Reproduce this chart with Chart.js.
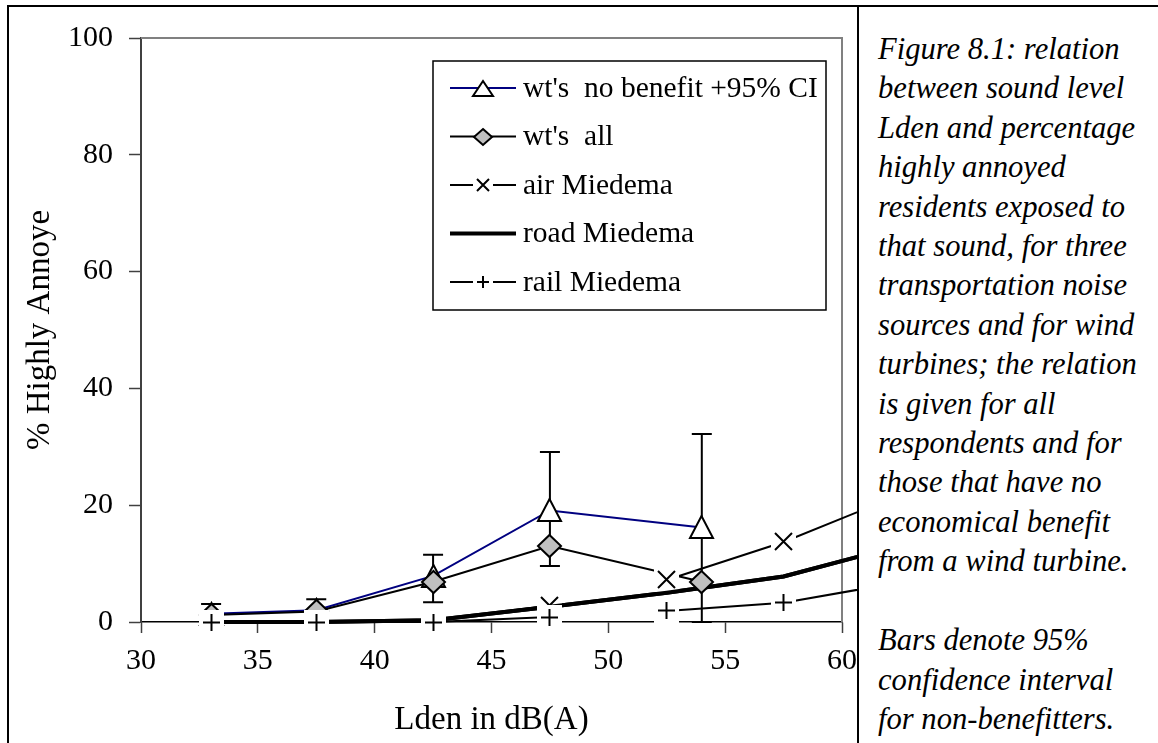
<!DOCTYPE html>
<html><head><meta charset="utf-8">
<script src="https://cdn.jsdelivr.net/npm/chart.js@4/dist/chart.umd.min.js"></script>
<style>
html,body{margin:0;padding:0;background:#fff;width:1158px;height:743px;overflow:hidden;}
#frameTop{position:absolute;left:7px;top:5px;width:1151px;height:0;border-top:2px solid #000;}
#frameLeft{position:absolute;left:7px;top:5px;width:0;height:738px;border-left:2px solid #000;}
#frameSep{position:absolute;left:857px;top:5px;width:0;height:738px;border-left:2px solid #000;}
#chartBox{position:absolute;left:9px;top:7px;width:848px;height:736px;}
#caption{position:absolute;left:878px;top:30px;font:italic 30.6px 'Liberation Serif';line-height:39.4px;color:#000;white-space:nowrap;}
</style></head>
<body>
<div id="frameTop"></div><div id="frameLeft"></div><div id="frameSep"></div>
<div id="chartBox"><canvas id="c" width="848" height="736" style="width:848px;height:736px"></canvas></div>
<div id="caption">Figure 8.1: relation<br>between sound level<br>Lden and percentage<br>highly annoyed<br>residents exposed to<br>that sound, for three<br>transportation noise<br>sources and for wind<br>turbines; the relation<br>is given for all<br>respondents and for<br>those that have no<br>economical benefit<br>from a wind turbine.<br><br>Bars denote 95%<br>confidence interval<br>for non-benefitters.</div>
<script>
// ---- data ----
const wtLden = [33, 37.5, 42.5, 47.5, 54];
const wtNoBenefit = [1.4, 2.0, 7.9, 19.1, 16.2];
const wtNoBenefitLow = [0, 0, 3.4, 9.6, 0];
const wtNoBenefitHigh = [3.1, 3.9, 11.5, 29.1, 32.2];
const wtAll = [1.2, 1.8, 6.9, 13.0, 6.9];
const miedemaLden = [33, 37.5, 42.5, 47.5, 52.5, 57.5, 62.5];
const airMiedema = [0, 0, 0.2, 2.8, 7.2, 13.7, 21.8];
const roadMiedema = [0, 0, 0.3, 2.6, 5.0, 7.8, 13.1];
const railMiedema = [0, 0, 0, 0.85, 1.9, 3.3, 6.8];
const miedemaGapIndex = 3; // no line drawn from this point to the next (air, rail)
const xTicks = [30, 35, 40, 45, 50, 55, 60];
const yTicks = [0, 20, 40, 60, 80, 100];
const labels = ["wt's  no benefit +95% CI", "wt's  all", "air Miedema", "road Miedema", "rail Miedema"];

const FONT = 'Liberation Serif';
const pts = (xs, ys) => xs.map((x, i) => ({x: x, y: ys[i]}));

function makeMarker(kind, w, h) {
  const pad = 2;
  const c = document.createElement('canvas');
  c.width = Math.round(w + pad * 2); c.height = Math.round(h + pad * 2);
  const g = c.getContext('2d');
  const mx = c.width / 2, my = c.height / 2, hw = w / 2, hh = h / 2;
  g.lineWidth = 2; g.strokeStyle = '#000'; g.lineJoin = 'miter';
  if (kind === 'triangle') {
    g.beginPath(); g.moveTo(mx, my - hh); g.lineTo(mx + hw, my + hh); g.lineTo(mx - hw, my + hh); g.closePath();
    g.fillStyle = '#fff'; g.fill(); g.stroke();
  } else if (kind === 'diamond') {
    g.beginPath(); g.moveTo(mx, my - hh); g.lineTo(mx + hw, my); g.lineTo(mx, my + hh); g.lineTo(mx - hw, my); g.closePath();
    g.fillStyle = '#c0c0c0'; g.fill(); g.stroke();
  } else if (kind === 'cross') {
    g.fillStyle = '#fff'; g.fillRect(0, 0, c.width, c.height);
    g.beginPath(); g.moveTo(mx - hw + 2, my - hh + 2); g.lineTo(mx + hw - 2, my + hh - 2);
    g.moveTo(mx + hw - 2, my - hh + 2); g.lineTo(mx - hw + 2, my + hh - 2); g.stroke();
  } else if (kind === 'plus') {
    g.fillStyle = '#fff'; g.fillRect(0, 0, c.width, c.height);
    g.beginPath(); g.moveTo(mx - hw + 2, my); g.lineTo(mx + hw - 2, my);
    g.moveTo(mx, my - hh + 2); g.lineTo(mx, my + hh - 2); g.stroke();
  }
  return c;
}
const chartMarkers = [makeMarker('triangle', 23, 22), makeMarker('diamond', 23, 22), makeMarker('cross', 21, 21), null, makeMarker('plus', 21, 21)];
const legendMarkers = [makeMarker('triangle', 20, 15), makeMarker('diamond', 18, 16), makeMarker('cross', 16, 16), null, makeMarker('plus', 16, 16)];

const gapSeg = { borderColor: ctx => (ctx.p0DataIndex === miedemaGapIndex ? 'rgba(0,0,0,0)' : undefined) };
const lineClip = {left: 0, top: 0, right: 20, bottom: 4};

const datasets = [
  {label: labels[0], data: pts(wtLden, wtNoBenefit), borderColor: '#000080', borderWidth: 2, order: 2},
  {label: labels[1], data: pts(wtLden, wtAll), borderColor: '#000', borderWidth: 2, order: 1},
  {label: labels[2], data: pts(miedemaLden, airMiedema), borderColor: '#000', borderWidth: 2, order: 3, segment: gapSeg},
  {label: labels[3], data: pts(miedemaLden, roadMiedema), borderColor: '#000', borderWidth: 4, order: 3},
  {label: labels[4], data: pts(miedemaLden, railMiedema), borderColor: '#000', borderWidth: 2, order: 3, segment: gapSeg}
].map(d => Object.assign({showLine: true, pointRadius: 0, pointHoverRadius: 0, tension: 0, fill: false, clip: lineClip, borderCapStyle: 'butt'}, d));

const frameAndBars = {
  id: 'frameAndBars',
  beforeDatasetsDraw(chart) {
    const {ctx, chartArea: a} = chart;
    ctx.save();
    ctx.strokeStyle = '#808080'; ctx.lineWidth = 2;
    ctx.beginPath(); ctx.moveTo(a.left, a.top); ctx.lineTo(a.right, a.top); ctx.lineTo(a.right, a.bottom); ctx.stroke();
    ctx.restore();
  },
  afterDatasetsDraw(chart) {
    const {ctx, chartArea: a} = chart;
    const xs = chart.scales.x, ys = chart.scales.y;
    ctx.save();
    // error bars
    ctx.strokeStyle = '#000'; ctx.lineWidth = 2;
    wtLden.forEach((x, i) => {
      const px = xs.getPixelForValue(x);
      const pl = ys.getPixelForValue(wtNoBenefitLow[i]);
      const ph = ys.getPixelForValue(wtNoBenefitHigh[i]);
      ctx.beginPath();
      ctx.moveTo(px, pl); ctx.lineTo(px, ph);
      ctx.moveTo(px - 10, ph); ctx.lineTo(px + 10, ph);
      ctx.moveTo(px - 10, pl); ctx.lineTo(px + 10, pl);
      ctx.stroke();
    });
    const drawMarkers = di => {
      const img = chartMarkers[di];
      chart.getDatasetMeta(di).data.forEach(el => {
        ctx.drawImage(img, Math.round(el.x - img.width / 2), Math.round(el.y - img.height / 2));
      });
    };
    drawMarkers(0);
    drawMarkers(2);
    // road line over the air markers
    ctx.save();
    ctx.beginPath(); ctx.rect(a.left, a.top, a.right - a.left + 20, a.bottom - a.top + 4); ctx.clip();
    chart.getDatasetMeta(3).dataset.draw(ctx, a);
    ctx.restore();
    drawMarkers(1);
    drawMarkers(4);
    ctx.restore();
  },
  afterDraw(chart) {
    const {ctx} = chart;
    ctx.save();
    const L = 424, T = 54, R = 817, B = 303;
    ctx.fillStyle = '#fff'; ctx.fillRect(L, T, R - L, B - T);
    ctx.strokeStyle = '#000'; ctx.lineWidth = 1.5; ctx.strokeRect(L, T, R - L, B - T);
    ctx.font = '29.5px "' + FONT + '"'; ctx.textBaseline = 'middle'; ctx.fillStyle = '#000';
    chart.data.datasets.forEach((d, i) => {
      const cy = 81 + i * 48.5;
      ctx.strokeStyle = d.borderColor; ctx.lineWidth = d.borderWidth;
      ctx.beginPath(); ctx.moveTo(441, cy); ctx.lineTo(507, cy); ctx.stroke();
      const img = legendMarkers[i];
      if (img) ctx.drawImage(img, Math.round(474 - img.width / 2), Math.round(cy - img.height / 2));
      ctx.fillText(d.label, 514, cy + 1);
    });
    ctx.restore();
  }
};

new Chart(document.getElementById('c'), {
  type: 'scatter',
  data: {datasets: datasets},
  plugins: [frameAndBars],
  options: {
    responsive: false, animation: false, events: [],
    devicePixelRatio: 1,
    layout: {padding: {left: 0, right: 15, top: 31, bottom: 0}},
    plugins: {legend: {display: false}, tooltip: {enabled: false}},
    scales: {
      x: {
        type: 'linear', min: 30, max: 60,
        afterBuildTicks: s => { s.ticks = xTicks.map(v => ({value: v})); },
        ticks: {color: '#000', font: {family: FONT, size: 30}, padding: 10, maxRotation: 0, autoSkip: false},
        grid: {drawOnChartArea: false, drawTicks: true, tickLength: 11, tickColor: '#404040', tickWidth: 1.5},
        border: {display: true, color: '#000', width: 1.5},
        title: {display: true, text: 'Lden in dB(A)', color: '#000', font: {family: FONT, size: 33}, padding: {top: 0, bottom: 3}},
        afterFit: s => { s.height = 121; s.paddingLeft = 0; s.paddingRight = 0; }
      },
      y: {
        type: 'linear', min: 0, max: 100,
        afterBuildTicks: s => { s.ticks = yTicks.map(v => ({value: v})); },
        ticks: {color: '#000', font: {family: FONT, size: 30}, padding: 16},
        grid: {drawOnChartArea: false, drawTicks: true, tickLength: 12, tickColor: '#404040', tickWidth: 1.5},
        border: {display: true, color: '#404040', width: 2},
        title: {display: true, text: '% Highly Annoye', color: '#000', font: {family: FONT, size: 33}, padding: {top: 12, bottom: 0}},
        afterFit: s => { s.width = 132; s.paddingTop = 0; s.paddingBottom = 0; }
      }
    }
  }
});
</script>
</body></html>
